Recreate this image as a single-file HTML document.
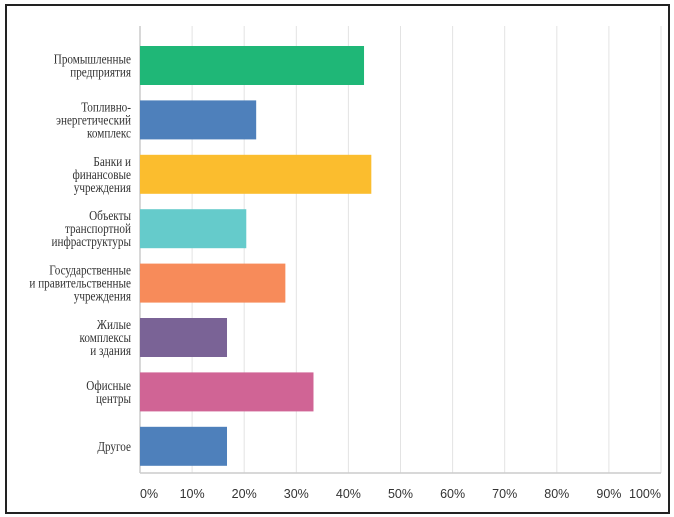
<!DOCTYPE html>
<html><head><meta charset="utf-8"><style>
html,body{margin:0;padding:0;background:#fff;}
#frame{position:absolute;left:5px;top:4px;width:661px;height:506px;border:2px solid #222;box-sizing:content-box;}
svg{position:absolute;left:0;top:0;}
</style></head><body>
<div id="frame"></div>
<svg id="chart" width="674" height="517"></svg>
<script>
const categories = [
 ["Промышленные","предприятия"],
 ["Топливно-","энергетический","комплекс"],
 ["Банки и","финансовые","учреждения"],
 ["Объекты","транспортной","инфраструктуры"],
 ["Государственные","и правительственные","учреждения"],
 ["Жилые","комплексы","и здания"],
 ["Офисные","центры"],
 ["Другое"]
];
const values = [43, 22.3, 44.4, 20.4, 27.9, 16.7, 33.3, 16.7];
const colors = ["#1fb777","#4e80bb","#fbbd2e","#65cbcb","#f78b5a","#7a6396","#d06495","#4e80bb"];
const ticks = [0,10,20,30,40,50,60,70,80,90,100];
const tickLabels = ["0%","10%","20%","30%","40%","50%","60%","70%","80%","90%","100%"];

const NS="http://www.w3.org/2000/svg";
const svg=document.getElementById('chart');
const x0=140, x1=661, yTop=26, yBase=473;
const xs=v=>x0+(x1-x0)*v/100;
const bandTop=35, band=54.4, barH=39;
const yb=i=>bandTop+i*band+(band-barH)/2+3.3;
function mk(t,a,parent){const e=document.createElementNS(NS,t);for(const k in a)e.setAttribute(k,a[k]);(parent||svg).appendChild(e);return e;}

ticks.forEach((t,i)=>{
  if(t>0){
    const g=mk('line',{x1:xs(t),x2:xs(t),y1:yTop,y2:yBase,stroke:'#e3e3e3','stroke-width':1});
    
    
  }
  const anchor = i===0?'start':(i===ticks.length-1?'end':'middle');
  const tx=mk('text',{x:xs(t),y:498,'text-anchor':anchor,'font-family':'Liberation Sans, sans-serif','font-size':12.5,fill:'#333'});
  tx.textContent=tickLabels[i];
  
  
});
const ya=mk('line',{x1:x0,x2:x0,y1:yTop,y2:yBase,stroke:'#ccc','stroke-width':1.5});


const xa=mk('line',{x1:x0,x2:x1,y1:yBase,y2:yBase,stroke:'#ccc','stroke-width':1.5});



const lblG=mk('g',{transform:'translate(131,0) scale(0.8,1)'});



values.forEach((v,i)=>{
  const y=yb(i);
  const r=mk('rect',{x:x0,y:y,width:xs(v)-x0,height:barH,fill:colors[i]});
  
  
  const lines=categories[i], lh=13;
  const cy=y+barH/2, start=cy-(lines.length-1)*lh/2+4.5;
  lines.forEach((s,j)=>{
    const t=mk('text',{x:0,y:start+j*lh,'text-anchor':'end','font-family':'Liberation Serif, serif','font-size':14,fill:'#333'},lblG);
    t.textContent=s;
    
    
  });
});
</script>
</body></html>
